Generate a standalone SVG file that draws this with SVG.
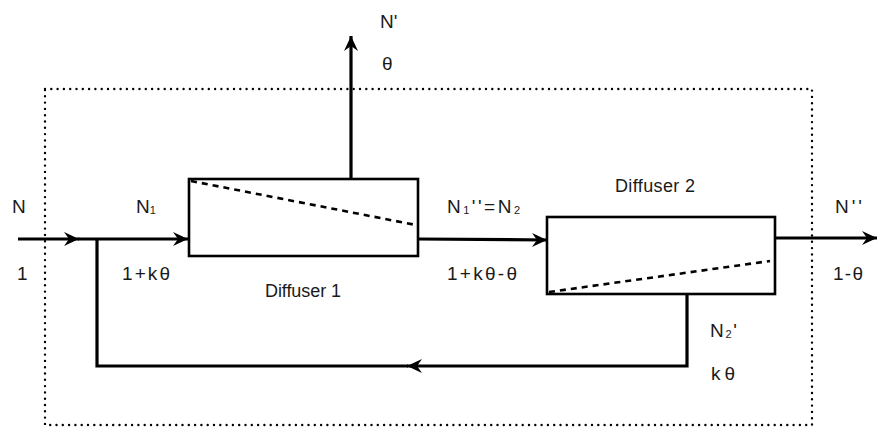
<svg xmlns="http://www.w3.org/2000/svg" width="879" height="427" viewBox="0 0 879 427">
<style>
.box{fill:#fff;stroke:#000;stroke-width:2.6}
.diag{fill:none;stroke:#000;stroke-width:2.6;stroke-dasharray:6 5}
.ln{fill:none;stroke:#000;stroke-width:3.2}
.dot{fill:none;stroke:#000;stroke-width:2.4;stroke-linecap:round;stroke-dasharray:0 6.3}
text{font-family:"Liberation Sans","DejaVu Sans",sans-serif;font-size:19px;fill:#1a1a1a}
.dl{font-size:18px}
.sub{font-size:11px}
</style>
<defs>
<marker id="ah" viewBox="-16 -8 17 16" refX="0" refY="0" markerWidth="17" markerHeight="16" markerUnits="userSpaceOnUse" orient="auto">
<path d="M0,0 L-15,-7 L-10,0 L-15,7 Z" fill="#000"/>
</marker>
</defs>
<rect id="boundary" class="dot" x="45" y="89" width="767" height="336"/>
<g id="connectors">
<line class="ln" x1="18" y1="239" x2="79" y2="239" marker-end="url(#ah)"/>
<line class="ln" x1="78" y1="239" x2="188" y2="239" marker-end="url(#ah)"/>
<line class="ln" x1="351" y1="179" x2="351" y2="36" marker-end="url(#ah)"/>
<line class="ln" x1="418" y1="239" x2="547" y2="240" marker-end="url(#ah)"/>
<line class="ln" x1="775" y1="238" x2="877" y2="238" marker-end="url(#ah)"/>
<polyline class="ln" points="687,294 687,366 407,366" marker-end="url(#ah)"/>
<polyline class="ln" points="408,366 97,366 97,239"/>
</g>
<g id="diffuser1">
<rect class="box" x="189" y="179" width="229" height="77"/>
<line class="diag" x1="191" y1="181" x2="416" y2="225"/>
<text class="dl" x="265" y="297" textLength="76">Diffuser 1</text>
</g>
<g id="diffuser2">
<rect class="box" x="547" y="217" width="228" height="77"/>
<line class="diag" x1="549" y1="292" x2="770" y2="261"/>
<text class="dl" x="615" y="192" textLength="80">Diffuser 2</text>
</g>
<g id="labels">
<text x="12" y="213">N</text>
<text x="17" y="280">1</text>
<text x="136" y="213">N<tspan class="sub" dy="1">1</tspan></text>
<text x="122" y="280" textLength="48">1+kθ</text>
<text x="447" y="213" textLength="73">N<tspan class="sub" dy="1">1</tspan><tspan dy="-1">''=N</tspan><tspan class="sub" dy="1">2</tspan></text>
<text x="447" y="280" textLength="70">1+kθ-θ</text>
<text x="835" y="213" textLength="27">N''</text>
<text x="833" y="280" textLength="30">1-θ</text>
<text x="380" y="28">N'</text>
<text x="382" y="70">θ</text>
<text x="710" y="337" textLength="27">N<tspan class="sub" dy="1">2</tspan><tspan dy="-1">'</tspan></text>
<text x="711" y="380" textLength="24">kθ</text>
</g>
</svg>
